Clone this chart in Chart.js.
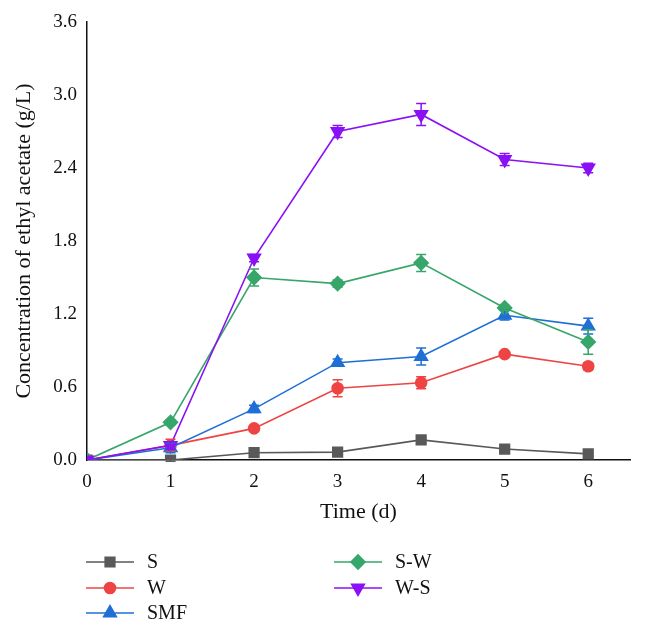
<!DOCTYPE html>
<html>
<head>
<meta charset="utf-8">
<script src="https://cdn.jsdelivr.net/npm/chart.js@4/dist/chart.umd.min.js"></script>
<style>
  html, body { margin: 0; padding: 0; background: #fff; }
  #wrap { width: 645px; height: 633px; }
</style>
</head>
<body>
<div id="wrap"><canvas id="myChart" width="645" height="633"></canvas></div>
<script>
// data
const days = [0, 1, 2, 3, 4, 5, 6];
const yTicks = [0, 0.6, 1.2, 1.8, 2.4, 3.0, 3.6];

const sVals   = [0, 0, 0.06, 0.065, 0.165, 0.09, 0.05];
const sErr    = [0, 0.01, 0.01, 0.01, 0.015, 0.01, 0.01];
const wVals   = [0, 0.12, 0.26, 0.59, 0.635, 0.87, 0.77];
const wErr    = [0, 0.05, 0.02, 0.07, 0.05, 0.02, 0.03];
const smfVals = [0, 0.10, 0.42, 0.80, 0.85, 1.19, 1.10];
const smfErr  = [0, 0.04, 0.03, 0.03, 0.07, 0.04, 0.065];
const swVals  = [0, 0.31, 1.50, 1.45, 1.62, 1.25, 0.97];
const swErr   = [0, 0.02, 0.07, 0.03, 0.07, 0.02, 0.10];
const wsVals  = [0, 0.12, 1.66, 2.70, 2.84, 2.47, 2.40];
const wsErr   = [0, 0.03, 0.03, 0.05, 0.09, 0.05, 0.04];

const FONT = "'Liberation Serif', 'DejaVu Serif', serif";

function pts(vals) {
  return days.map((d, i) => ({ x: d, y: vals[i] }));
}

function makeSet(label, vals, err, color, style, radius, rot, order) {
  return {
    label: label,
    data: pts(vals),
    err: err,
    borderColor: color,
    backgroundColor: color,
    pointBackgroundColor: color,
    pointBorderColor: color,
    pointStyle: style,
    pointRadius: radius,
    pointRotation: rot,
    borderWidth: 1.6,
    order: order
  };
}

const datasets = [
  makeSet('S', sVals, sErr, '#595959', 'rect', 6.8, 0, 5),
  makeSet('W', wVals, wErr, '#ee4444', 'circle', 5.5, 0, 4),
  makeSet('SMF', smfVals, smfErr, '#1f6fd6', 'triangle', 7.3, 0, 3),
  makeSet('S-W', swVals, swErr, '#37a66a', 'rectRot', 7, 0, 2),
  makeSet('W-S', wsVals, wsErr, '#8a10f5', 'triangle', 7.3, 180, 1)
];

// error bars drawn through the scales
const errorBars = {
  id: 'errorBars',
  afterDatasetsDraw(chart) {
    const ctx = chart.ctx;
    const xs = chart.scales.x, ys = chart.scales.y;
    chart.data.datasets.forEach(ds => {
      ctx.save();
      ctx.strokeStyle = ds.borderColor;
      ctx.lineWidth = 1.5;
      ds.data.forEach((p, i) => {
        const e = ds.err[i];
        if (!e) return;
        const px = xs.getPixelForValue(p.x);
        const top = ys.getPixelForValue(p.y + e);
        const bot = ys.getPixelForValue(p.y - e);
        ctx.beginPath();
        ctx.moveTo(px, top); ctx.lineTo(px, bot);
        ctx.moveTo(px - 5, top); ctx.lineTo(px + 5, top);
        ctx.moveTo(px - 5, bot); ctx.lineTo(px + 5, bot);
        ctx.stroke();
      });
      ctx.restore();
    });
  }
};

// two-column legend under the chart
const legendCols = {
  id: 'legendCols',
  afterDraw(chart) {
    const ctx = chart.ctx;
    const slots = [[86, 562], [86, 588], [86, 613], [334, 562], [334, 588]];
    chart.data.datasets.forEach((ds, i) => {
      const [x, y] = slots[i];
      ctx.save();
      ctx.strokeStyle = ds.borderColor;
      ctx.lineWidth = 1.6;
      ctx.beginPath();
      ctx.moveTo(x, y); ctx.lineTo(x + 48, y);
      ctx.stroke();
      ctx.fillStyle = ds.backgroundColor;
      Chart.helpers.drawPoint(ctx, {
        pointStyle: ds.pointStyle,
        radius: ds.pointRadius,
        rotation: ds.pointRotation,
        borderWidth: 1
      }, x + 24, y);
      ctx.fillStyle = '#111';
      ctx.font = '20px ' + FONT;
      ctx.textBaseline = 'middle';
      ctx.fillText(ds.label, x + 61, y + 1);
      ctx.restore();
    });
  }
};

var ctx = document.getElementById('myChart').getContext('2d');

var myChart = new Chart(ctx, {
  type: 'line',
  data: { datasets: datasets },
  options: {
    responsive: false,
    animation: false,
    layout: {
      padding: { left: 11, top: 22, right: 15, bottom: 108 }
    },
    plugins: {
      legend: { display: false },
      tooltip: { enabled: false }
    },
    scales: {
      x: {
        type: 'linear',
        min: 0,
        max: 6.5,
        grid: { display: false, drawTicks: false },
        border: { display: true, color: '#111', width: 1.5 },
        afterBuildTicks: s => { s.ticks = days.map(d => ({ value: d })); },
        afterFit: s => { s.height = 65; },
        ticks: {
          color: '#111',
          padding: 11,
          font: { family: FONT, size: 19 }
        },
        title: {
          display: true,
          text: 'Time (d)',
          color: '#111',
          padding: { top: 0, bottom: 0 },
          font: { family: FONT, size: 22 }
        }
      },
      y: {
        min: 0,
        max: 3.6,
        grid: { display: false, drawTicks: false },
        border: { display: true, color: '#111', width: 1.5 },
        afterBuildTicks: s => { s.ticks = yTicks.map(v => ({ value: v })); },
        afterFit: s => { s.width = 76; },
        ticks: {
          color: '#111',
          padding: 10,
          font: { family: FONT, size: 19 },
          callback: v => v.toFixed(1)
        },
        title: {
          display: true,
          text: 'Concentration of ethyl acetate (g/L)',
          color: '#111',
          padding: { top: 0, bottom: 0 },
          font: { family: FONT, size: 22 }
        }
      }
    }
  },
  plugins: [errorBars, legendCols]
});
</script>
</body>
</html>
